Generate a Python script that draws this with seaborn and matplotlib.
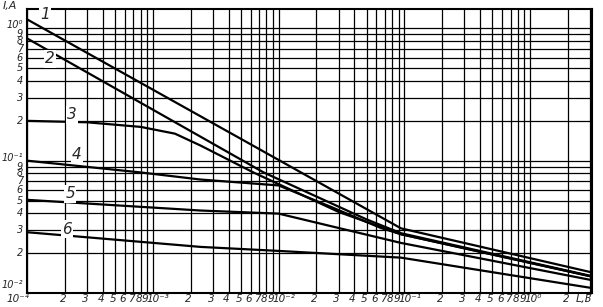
import numpy as np
import pandas as pd
import matplotlib
matplotlib.use("Agg")
import matplotlib.pyplot as plt
import matplotlib.transforms as mtransforms
import seaborn as sns

# ---- data ----
l1_x = [1e-4, 0.094, 3.1]
l1_y = [1.17, 0.0308, 0.0143]

l2_x = [1e-4, 0.0076, 0.05, 0.094, 3.1]
l2_y = [0.84, 0.0815, 0.036, 0.0283, 0.0134]

l3_x = [1e-4, 3e-4, 8e-4, 1.5e-3, 2.4e-3, 6.3e-3, 0.03, 0.094, 3.1]
l3_y = [0.2, 0.195, 0.18, 0.16, 0.13, 0.0815, 0.041, 0.0278, 0.0133]

l4_x = [1e-4, 8e-4, 2.4e-3, 1e-2, 0.026, 0.065, 0.094, 3.1]
l4_y = [0.1, 0.0815, 0.072, 0.065, 0.0448, 0.031, 0.0278, 0.0133]

l5_x = [1e-4, 2.4e-3, 1e-2, 0.094, 3.1]
l5_y = [0.0506, 0.042, 0.0398, 0.0239, 0.0125]

l6_x = [1e-4, 2.4e-3, 1e-2, 0.094, 3.1]
l6_y = [0.0288, 0.0223, 0.0208, 0.0185, 0.0109]

curve_names = ["1", "2", "3", "4", "5", "6"]
label_x = [1.39e-4, 1.53e-4, 2.28e-4, 2.5e-4, 2.2e-4, 2.08e-4]
label_y = [1.28, 0.587, 0.222, 0.112, 0.056, 0.0303]

xs = [l1_x, l2_x, l3_x, l4_x, l5_x, l6_x]
ys = [l1_y, l2_y, l3_y, l4_y, l5_y, l6_y]

rows = []
for name, xx, yy in zip(curve_names, xs, ys):
    for a, b in zip(xx, yy):
        rows.append({"curve": name, "L": a, "I": b})
df = pd.DataFrame(rows)

sns.set_style("white")
plt.rcParams["font.family"] = ["DejaVu Sans"]

fig = plt.figure(figsize=(6.03, 3.07), dpi=100)
ax = fig.add_axes([27 / 603, 1 - 293 / 307, (592 - 27) / 603, (293 - 9) / 307])

ax.set_xscale("log")
ax.set_yscale("log")

sns.lineplot(data=df, x="L", y="I", units="curve", estimator=None, sort=False,
             color="black", linewidth=1.6, ax=ax, legend=False, zorder=3)

ax.set_xlim(1e-4, 3.1)
ax.set_ylim(1e-2, 1.4)

sup = {"-": "⁻", "0": "⁰", "1": "¹", "2": "²", "3": "³", "4": "⁴"}

def dec_label(d):
    return "10" + "".join(sup[c] for c in str(d))

xt, xl, xdec = [], [], []
for d in range(-4, 1):
    for m in range(1, 10):
        v = m * 10.0 ** d
        if v > 3.1:
            break
        xt.append(v)
        xl.append(dec_label(d) if m == 1 else str(m))
        xdec.append(m == 1)
yt, yl, ydec = [], [], []
for d in range(-2, 1):
    for m in range(1, 10):
        v = m * 10.0 ** d
        if v > 1.4:
            break
        yt.append(v)
        yl.append(dec_label(d) if m == 1 else str(m))
        ydec.append(m == 1)

ax.minorticks_off()
ax.set_xticks(xt)
ax.set_yticks(yt)
ax.set_xticklabels([])
ax.set_yticklabels([])
ax.minorticks_off()
ax.tick_params(axis="both", length=0)
ax.grid(True, which="major", color="black", linewidth=0.9)
ax.set_xlabel("")
ax.set_ylabel("")
for sp in ax.spines.values():
    sp.set_color("black")
    sp.set_linewidth(1.5)

# x tick labels drawn as texts so that crowded ones can be nudged
xtr = ax.get_xaxis_transform()
for v, lab, isdec in zip(xt, xl, xdec):
    if isdec:
        off = mtransforms.offset_copy(xtr, fig=fig, x=-6, y=-6, units="dots")
        ha = "left"
        if v == 1e-4:
            off = mtransforms.offset_copy(xtr, fig=fig, x=-9, y=-6, units="dots")
            ha = "center"
    else:
        off = mtransforms.offset_copy(xtr, fig=fig, x=-2, y=-6, units="dots")
        ha = "center"
    ax.text(v, 0, lab, transform=off, fontsize=7.5, style="italic",
            ha=ha, va="center", clip_on=False)

ytr = ax.get_yaxis_transform()
for v, lab, isdec in zip(yt, yl, ydec):
    dy = 0
    if isdec:
        dy = 3
        if v == 1e-2:
            dy = 8
    off = mtransforms.offset_copy(ytr, fig=fig, x=-4, y=dy, units="dots")
    ax.text(0, v, lab, transform=off, fontsize=7, style="italic",
            ha="right", va="center", clip_on=False)

for name, lx, ly in zip(curve_names, label_x, label_y):
    ax.text(lx, ly, name, fontsize=11, style="italic", ha="center", va="center",
            zorder=4, bbox=dict(facecolor="white", edgecolor="none", pad=1.0))

fig.text(3 / 603, 1 - 6 / 307, "I,A", fontsize=8, style="italic",
         ha="left", va="center")
fig.text(576 / 603, 1 - 299 / 307, "L,Γ", fontsize=8, style="italic",
         ha="left", va="center")

fig.savefig("out.png", dpi=100, facecolor="white")
